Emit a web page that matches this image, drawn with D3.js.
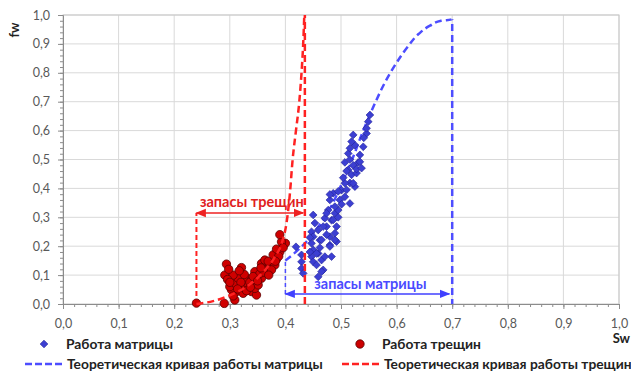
<!DOCTYPE html>
<html>
<head>
<meta charset="utf-8">
<script src="https://cdn.jsdelivr.net/npm/d3@7"></script>
<style>
  body { margin: 0; background: #fff; }
  svg { font-family: Lato, "Open Sans", sans-serif; }
</style>
</head>
<body>
<div id="chart"></div>
<script>
// Sw / fw values
const matrixPoints = [
  [0.419,0.198],[0.429,0.170],[0.429,0.146],[0.429,0.123],[0.432,0.106],
  [0.450,0.308],[0.447,0.250],[0.450,0.233],[0.447,0.210],[0.450,0.187],[0.447,0.164],[0.450,0.146],
  [0.459,0.256],[0.462,0.221],[0.459,0.175],[0.465,0.152],[0.468,0.118],[0.459,0.094],[0.465,0.112],
  [0.471,0.297],[0.474,0.268],[0.477,0.325],[0.480,0.360],[0.483,0.290],[0.480,0.233],[0.480,0.204],
  [0.483,0.164],[0.489,0.314],[0.492,0.268],[0.489,0.245],[0.492,0.216],[0.498,0.360],[0.501,0.394],
  [0.516,0.348],[0.486,0.383],[0.495,0.325],[0.474,0.314],[0.486,0.291],[0.468,0.268],[0.489,0.222],
  [0.465,0.222],[0.480,0.199],[0.456,0.175],[0.471,0.164],[0.489,0.337],[0.507,0.371],[0.516,0.419],
  [0.525,0.406],[0.495,0.390],[0.480,0.379],[0.507,0.418],[0.522,0.418],[0.504,0.437],[0.519,0.447],
  [0.528,0.453],[0.513,0.464],[0.510,0.460],[0.522,0.480],[0.507,0.490],[0.531,0.490],[0.534,0.492],
  [0.516,0.500],[0.513,0.521],[0.534,0.516],[0.516,0.539],[0.540,0.544],[0.525,0.550],[0.519,0.562],
  [0.522,0.585],[0.546,0.590],[0.546,0.608],[0.549,0.631],[0.552,0.654],[0.528,0.467],[0.453,0.280],
  [0.462,0.195],[0.474,0.240],[0.495,0.300],[0.501,0.345],[0.510,0.395],[0.537,0.470],[0.541,0.575],
  [0.456,0.135],[0.444,0.230],[0.444,0.180]
];

const fracturePoints = [
  [0.240,0.003],[0.290,0.002],[0.309,0.014],[0.312,0.043],[0.324,0.037],[0.339,0.043],[0.348,0.031],
  [0.303,0.049],[0.300,0.060],[0.318,0.060],[0.327,0.054],[0.345,0.054],[0.309,0.072],[0.333,0.066],
  [0.351,0.066],[0.315,0.089],[0.330,0.089],[0.339,0.083],[0.357,0.089],[0.291,0.100],[0.306,0.100],
  [0.345,0.112],[0.354,0.105],[0.321,0.126],[0.294,0.138],[0.366,0.123],[0.357,0.140],[0.372,0.135],
  [0.381,0.135],[0.363,0.152],[0.369,0.148],[0.384,0.155],[0.378,0.170],[0.390,0.180],[0.384,0.190],
  [0.400,0.210],[0.393,0.215],[0.390,0.240],[0.296,0.085],[0.320,0.075],[0.336,0.075],[0.342,0.095],
  [0.326,0.102],[0.314,0.052],[0.330,0.046],[0.300,0.075],[0.350,0.080],[0.362,0.110],[0.375,0.118],
  [0.388,0.165],[0.396,0.195],[0.306,0.028],[0.317,0.115],[0.337,0.058],[0.356,0.125],[0.298,0.120],
  [0.370,0.100],[0.382,0.148]
];

const matrixCurve = [
  [0.40,0.15],[0.43,0.20],[0.46,0.27],[0.48,0.33],[0.50,0.41],[0.52,0.50],[0.54,0.60],[0.56,0.69],
  [0.58,0.77],[0.60,0.835],[0.62,0.89],[0.64,0.935],[0.66,0.963],[0.68,0.98],[0.70,0.985],[0.70,0.0]
];

const fractureCurve = [
  [0.24,0.0],[0.27,0.01],[0.30,0.03],[0.33,0.06],[0.36,0.11],[0.38,0.16],[0.395,0.22],[0.402,0.28],
  [0.408,0.38],[0.413,0.5],[0.419,0.6],[0.425,0.7],[0.429,0.8],[0.432,0.9],[0.434,1.0]
];
const fractureCutoff = 0.435;

// reserves annotations: [from Sw, to Sw, fw level]
const fractureReserve = [0.24, 0.432, 0.315];
const matrixReserve = [0.40, 0.695, 0.035];

const ticks = d3.range(0, 1.0001, 0.1);
const minorTicks = d3.range(0, 1.0001, 0.02);

const legendItems = [
  {label: "Работа матрицы", type: "diamond", color: "#3c3fd2", x: 44, y: 344},
  {label: "Работа трещин", type: "circle", color: "#cc0000", x: 360, y: 344},
  {label: "Теоретическая кривая работы матрицы", type: "line", color: "#4d4dff", x: 25, y: 364},
  {label: "Теоретическая кривая работы трещин", type: "line", color: "#ff2222", x: 342, y: 364}
];

const width = 631, height = 374;
const margin = {top: 15, right: 12, bottom: 70, left: 63};

const svg = d3.select("#chart").append("svg")
  .attr("width", width)
  .attr("height", height);

const x = d3.scaleLinear().domain([0, 1]).range([margin.left, width - margin.right]);
const y = d3.scaleLinear().domain([0, 1]).range([height - margin.bottom, margin.top]);
const fmt = d => d3.format(".1f")(d).replace(".", ",");

// grid
svg.append("g").selectAll("line").data(ticks.slice(1)).enter().append("line")
  .attr("x1", d => x(d)).attr("x2", d => x(d))
  .attr("y1", y(0)).attr("y2", y(1))
  .attr("stroke", "#d9d9d9");
svg.append("g").selectAll("line").data(ticks.slice(1)).enter().append("line")
  .attr("x1", x(0)).attr("x2", x(1))
  .attr("y1", d => y(d)).attr("y2", d => y(d))
  .attr("stroke", "#d9d9d9");
svg.append("rect")
  .attr("x", x(0)).attr("y", y(1))
  .attr("width", x(1) - x(0)).attr("height", y(0) - y(1))
  .attr("fill", "none").attr("stroke", "#c8c8c8");

// axes
const xAxis = svg.append("g").attr("transform", `translate(0,${y(0)})`);
xAxis.call(d3.axisBottom(x).tickValues(minorTicks).tickSize(3).tickFormat(""));
xAxis.call(g => g.select(".domain").remove());
xAxis.append("g").call(d3.axisBottom(x).tickValues(ticks).tickSize(5).tickPadding(10).tickFormat(fmt));
xAxis.selectAll("line").attr("stroke", "#8c8c8c");
xAxis.selectAll(".domain").attr("stroke", "#8c8c8c");

const yAxis = svg.append("g").attr("transform", `translate(${x(0)},0)`);
yAxis.call(d3.axisLeft(y).tickValues(minorTicks).tickSize(3).tickFormat(""));
yAxis.call(g => g.select(".domain").remove());
yAxis.append("g").call(d3.axisLeft(y).tickValues(ticks).tickSize(5).tickPadding(8).tickFormat(fmt));
yAxis.selectAll("line").attr("stroke", "#8c8c8c");
yAxis.selectAll(".domain").attr("stroke", "#8c8c8c");

svg.selectAll(".tick text")
  .attr("fill", "#595959")
  .style("font-size", "12.5px")
  .style("font-family", "Lato, sans-serif");

svg.append("text").text("fw")
  .attr("transform", `translate(19,30) rotate(-90)`)
  .attr("text-anchor", "middle")
  .style("font-weight", "bold").style("font-size", "13px").attr("fill", "#222");
svg.append("text").text("Sw")
  .attr("x", 630).attr("y", 343)
  .attr("text-anchor", "end")
  .style("font-weight", "bold").style("font-size", "13px").attr("fill", "#222");

// theoretical curves
const line = d3.line().x(d => x(d[0])).y(d => y(d[1]));
svg.append("path").datum(matrixCurve)
  .attr("d", line.curve(d3.curveMonotoneY))
  .attr("fill", "none").attr("stroke", "#4d4dff")
  .attr("stroke-width", 2.5).attr("stroke-dasharray", "7,4");

// annotations
const defs = svg.append("defs");
function marker(id, color) {
  defs.append("marker").attr("id", id)
    .attr("viewBox", "0 0 10 10").attr("refX", 9).attr("refY", 5)
    .attr("markerWidth", 7).attr("markerHeight", 7)
    .attr("orient", "auto-start-reverse")
    .append("path").attr("d", "M0,1 L10,5 L0,9 Z").attr("fill", color);
}
marker("arrRed", "#ee2222");
marker("arrBlue", "#4040ff");

svg.append("line")
  .attr("x1", x(fractureReserve[0])).attr("x2", x(fractureReserve[0]))
  .attr("y1", y(0)).attr("y2", y(fractureReserve[2]))
  .attr("stroke", "#ff2222").attr("stroke-width", 2).attr("stroke-dasharray", "5,3");
svg.append("line")
  .attr("x1", x(fractureReserve[0])).attr("x2", x(fractureReserve[1]))
  .attr("y1", y(fractureReserve[2])).attr("y2", y(fractureReserve[2]))
  .attr("stroke", "#ee2222").attr("stroke-width", 1.5)
  .attr("marker-start", "url(#arrRed)").attr("marker-end", "url(#arrRed)");
svg.append("text").text("запасы трещин")
  .attr("x", (x(fractureReserve[0]) + x(fractureReserve[1])) / 2 + 2).attr("y", y(fractureReserve[2]) - 6)
  .attr("text-anchor", "middle").attr("fill", "#e02020")
  .style("font-weight", "bold").style("font-size", "14.5px");

svg.append("line")
  .attr("x1", x(matrixReserve[0])).attr("x2", x(matrixReserve[0]))
  .attr("y1", y(matrixReserve[2])).attr("y2", y(matrixCurve[0][1]))
  .attr("stroke", "#4d4dff").attr("stroke-width", 1.5).attr("stroke-dasharray", "4,3");
svg.append("line")
  .attr("x1", x(matrixReserve[0])).attr("x2", x(matrixReserve[1]))
  .attr("y1", y(matrixReserve[2])).attr("y2", y(matrixReserve[2]))
  .attr("stroke", "#4040ff").attr("stroke-width", 1.5)
  .attr("marker-start", "url(#arrBlue)").attr("marker-end", "url(#arrBlue)");
svg.append("text").text("запасы матрицы")
  .attr("x", x((matrixReserve[0] + matrixReserve[1]) / 2) + 3).attr("y", y(matrixReserve[2]) - 5)
  .attr("text-anchor", "middle").attr("fill", "#4a4aff")
  .style("font-weight", "bold").style("font-size", "14.5px");

// scatter
const diamond = d3.symbol(d3.symbolSquare, 30);
svg.append("g").selectAll("path").data(matrixPoints).enter().append("path")
  .attr("d", diamond)
  .attr("transform", d => `translate(${x(d[0])},${y(d[1])}) rotate(45)`)
  .attr("fill", "#3c3fd2").attr("stroke", "#23239a").attr("stroke-width", 0.6);

svg.append("g").selectAll("circle").data(fracturePoints).enter().append("circle")
  .attr("cx", d => x(d[0])).attr("cy", d => y(d[1])).attr("r", 4.2)
  .attr("fill", "#d00000").attr("stroke", "#5a0000").attr("stroke-width", 0.8);

svg.append("path").datum(fractureCurve)
  .attr("d", d3.line().x(d => x(d[0])).y(d => y(d[1])).curve(d3.curveMonotoneX))
  .attr("fill", "none").attr("stroke", "#ff2222")
  .attr("stroke-width", 2.5).attr("stroke-dasharray", "7,4");
svg.append("line")
  .attr("x1", x(fractureCutoff)).attr("x2", x(fractureCutoff))
  .attr("y1", y(0)).attr("y2", y(1))
  .attr("stroke", "#ff2222").attr("stroke-width", 2.5).attr("stroke-dasharray", "7,4");

// legend
const legend = svg.append("g").selectAll("g").data(legendItems).enter().append("g")
  .attr("transform", d => `translate(${d.x},${d.y})`);
legend.filter(d => d.type === "diamond").append("path")
  .attr("d", diamond).attr("transform", "rotate(45)")
  .attr("fill", d => d.color).attr("stroke", "#23239a").attr("stroke-width", 0.6);
legend.filter(d => d.type === "circle").append("circle")
  .attr("r", 4.2).attr("fill", d => d.color).attr("stroke", "#5a0000").attr("stroke-width", 0.8);
legend.filter(d => d.type === "line").append("line")
  .attr("x1", 0).attr("x2", 38)
  .attr("stroke", d => d.color).attr("stroke-width", 2.5).attr("stroke-dasharray", "7,3");
legend.append("text").text(d => d.label)
  .attr("x", d => d.type === "line" ? 42 : 22).attr("y", 5)
  .attr("fill", "#222").style("font-weight", "bold").style("font-size", "13.8px");
</script>
</body>
</html>
